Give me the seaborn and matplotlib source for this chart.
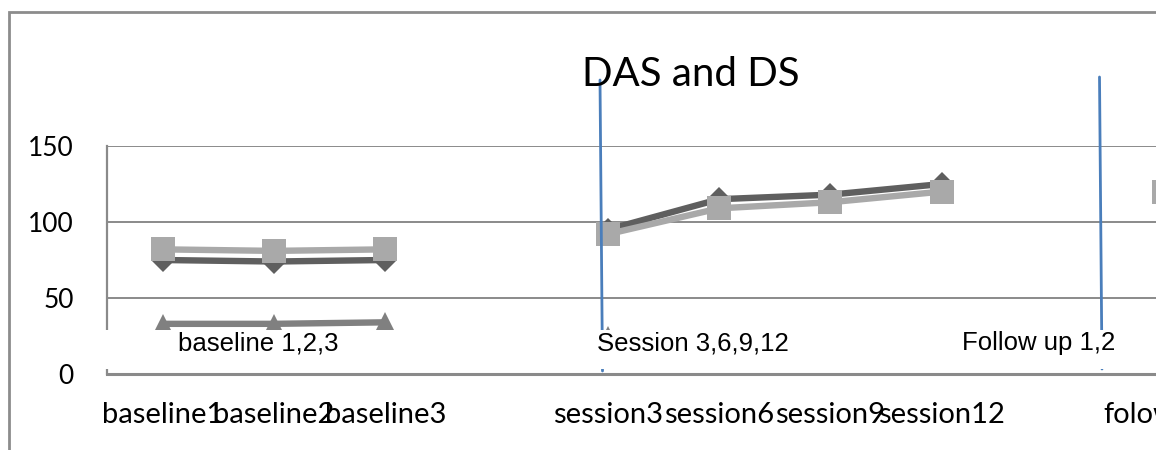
import matplotlib
matplotlib.use("Agg")
import matplotlib.pyplot as plt
import seaborn as sns
from matplotlib.patches import Rectangle
from matplotlib.lines import Line2D

# ---------------- data ----------------
categories = ["baseline1", "baseline2", "baseline3", "",
              "session3", "session6", "session9", "session12", "",
              "folowup1", "folowup2"]
series1 = [75, 74, 75, None, 95, 115, 118, 125, None, 121, None]   # dark, diamond
series2 = [82, 81, 82, None, 92, 109, 113, 120, None, 120, None]   # light, square
series3 = [33, 33, 34, None, 25, 22, 21, 21, None, None, None]     # mid, triangle
phase_labels = ["baseline 1,2,3", "Session 3,6,9,12", "Follow up 1,2"]
y_ticks = [0, 50, 100, 150]
title_text = "DAS and DS"

# ---------------- style ----------------
W, H = 1156, 450
sns.set_theme(style="white")
plt.rcParams["font.family"] = ["Lato", "DejaVu Sans"]

fig = plt.figure(figsize=(W / 100, H / 100), dpi=100)
fig.patch.set_facecolor("white")

def fx(px):
    return px / W

def fy(py):
    return 1 - py / H

cat_w = 111.3
ax = fig.add_axes([fx(107), fy(374), len(categories) * cat_w / W, (374 - 146) / H])
ax.set_facecolor("white")

def segments(vals):
    seg = []
    for i, v in enumerate(vals):
        if v is None:
            if seg:
                yield seg
            seg = []
        else:
            seg.append((i, v))
    if seg:
        yield seg

styles = [
    (series1, "#5f5f5f", "D", 12.0, 3),
    (series2, "#a9a9a9", "s", 17.3, 4),
    (series3, "#808080", "^", 14.0, 5),
]
for vals, col, mk, ms, z in styles:
    for seg in segments(vals):
        xs = [p[0] for p in seg]
        ys = [p[1] for p in seg]
        sns.lineplot(x=xs, y=ys, ax=ax, color=col, linewidth=4.6,
                     marker=mk, markersize=ms, markeredgewidth=0,
                     markerfacecolor=col, zorder=z, legend=False)

ax.set_xlim(-0.5, len(categories) - 0.5)
ax.set_ylim(0, 150)
ax.set_yticks(y_ticks)
ax.set_yticklabels([str(v) for v in y_ticks], fontsize=19, color="black")
ax.set_xticks(range(len(categories)))
ax.set_xticklabels(categories, fontsize=21, color="black")
ax.tick_params(axis="y", length=0, pad=24)
ax.tick_params(axis="x", length=0, pad=20)
ax.grid(axis="y", color="#8a8a8a", linewidth=1.4)
ax.grid(axis="x", visible=False)
ax.set_axisbelow(True)
for s in ["top", "right"]:
    ax.spines[s].set_visible(False)
ax.spines["left"].set_color("#8a8a8a")
ax.spines["left"].set_linewidth(1.6)
ax.spines["bottom"].set_color("#8a8a8a")
ax.spines["bottom"].set_linewidth(2.2)
ax.set_xlabel("")
ax.set_ylabel("")

# outer chart frame
fig.patches.append(Rectangle((fx(8.5), -0.2), 2, fy(11.5) + 0.2, transform=fig.transFigure,
                             fill=False, edgecolor="#8c8c8c", linewidth=2.0, zorder=1))

# title
fig.text(fx(691), fy(86), title_text, ha="center", va="baseline", fontsize=29,
         color="black", zorder=3)

# blue phase-change lines
fig.lines.append(Line2D([fx(600), fx(602.5)], [fy(80), fy(371)], transform=fig.transFigure,
                        color="#4a7ebb", linewidth=2.0, zorder=1.5))
fig.lines.append(Line2D([fx(1099.5), fx(1102)], [fy(77), fy(369)], transform=fig.transFigure,
                        color="#4a7ebb", linewidth=2.0, zorder=1.5))

# white label band
fig.patches.append(Rectangle((fx(92), fy(369)), fx(W - 92), (369 - 330) / H,
                             transform=fig.transFigure, facecolor="white",
                             edgecolor="none", zorder=2))

label_x = [258.5, 692.5, 1038.5]
for lx, txt in zip(label_x, phase_labels):
    fig.text(fx(lx), fy(350), txt, ha="center", va="baseline", fontsize=18.5,
             family=["Liberation Sans", "DejaVu Sans"], color="black", zorder=3)

fig.savefig("out.png", dpi=100, facecolor="white")
